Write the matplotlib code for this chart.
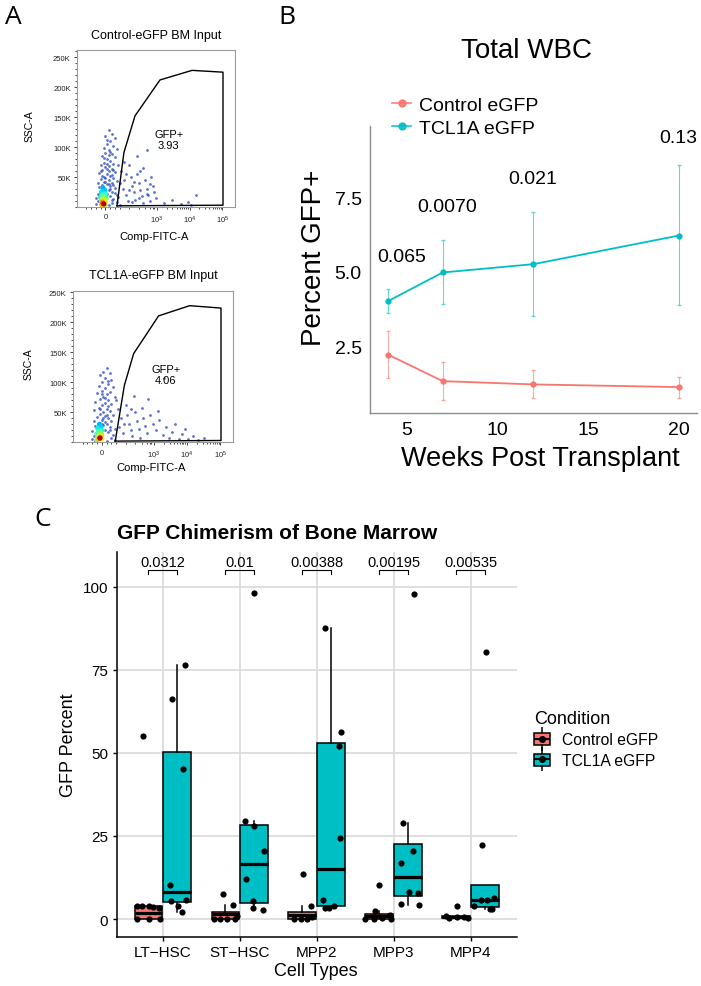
import numpy as np
import matplotlib.pyplot as plt
from matplotlib.lines import Line2D
from matplotlib.patches import Patch
from matplotlib.legend_handler import HandlerTuple
from matplotlib.ticker import MultipleLocator

plt.rcParams['font.family'] = ['Liberation Sans', 'DejaVu Sans']
plt.rcParams['mathtext.default'] = 'regular'

W, H = 701, 987

# ---------- A: flow events (x = position on FITC display axis 0-1, y = SSC-A in K)
ctrl_events = [(0.20, 128), (0.22, 122), (0.18, 118), (0.24, 115), (0.21, 110), (0.19, 105), (0.23, 102),
               (0.17, 98), (0.25, 96), (0.20, 95), (0.18, 90), (0.22, 88), (0.16, 85), (0.24, 83),
               (0.19, 80), (0.21, 77), (0.17, 74), (0.23, 72), (0.15, 70), (0.26, 70), (0.20, 68),
               (0.18, 66), (0.22, 64), (0.16, 62), (0.20, 60), (0.24, 58), (0.14, 56), (0.19, 55),
               (0.21, 52), (0.17, 50), (0.23, 48), (0.15, 46), (0.20, 45), (0.25, 44), (0.18, 42),
               (0.22, 40), (0.13, 40), (0.19, 38), (0.16, 36), (0.21, 35), (0.14, 33), (0.24, 32),
               (0.18, 30), (0.20, 28), (0.15, 26), (0.22, 25), (0.13, 22), (0.25, 20), (0.17, 18),
               (0.26, 16), (0.12, 15), (0.23, 14), (0.13, 10), (0.25, 8), (0.12, 5), (0.27, 4),
               (0.20, 3), (0.15, 3), (0.22, 6), (0.19, 112), (0.21, 92), (0.17, 82), (0.23, 62),
               (0.19, 72), (0.16, 52), (0.22, 54), (0.18, 48), (0.20, 38), (0.23, 36), (0.17, 42),
               (0.21, 30), (0.19, 22), (0.24, 24), (0.14, 18), (0.22, 12), (0.21, 18), (0.19, 64),
               (0.15, 60), (0.20, 86),
               (0.28, 60), (0.30, 45), (0.29, 30), (0.31, 20), (0.33, 70), (0.34, 50), (0.35, 35),
               (0.36, 25), (0.37, 12), (0.38, 55), (0.39, 40), (0.40, 28), (0.41, 18), (0.42, 65),
               (0.43, 45), (0.44, 30), (0.45, 20), (0.46, 10), (0.47, 50), (0.48, 35), (0.49, 25),
               (0.38, 85), (0.44, 95), (0.50, 15), (0.32, 10), (0.35, 8), (0.42, 6), (0.30, 75),
               (0.27, 40), (0.36, 42), (0.40, 60), (0.46, 38), (0.33, 28), (0.39, 15), (0.44, 22),
               (0.31, 55), (0.66, 5), (0.70, 8), (0.72, 3), (0.60, 12), (0.55, 6), (0.75, 20)]
ctrl_core = [(0.165, 32, 0.30), (0.175, 28, 0.32), (0.155, 25, 0.35), (0.18, 22, 0.38), (0.16, 20, 0.42),
             (0.17, 18, 0.48), (0.15, 16, 0.40), (0.185, 15, 0.45), (0.165, 14, 0.55), (0.175, 12, 0.60),
             (0.155, 11, 0.50), (0.17, 10, 0.68), (0.16, 8, 0.75), (0.18, 8, 0.60), (0.165, 6, 0.85),
             (0.17, 5, 0.95), (0.155, 4, 0.70), (0.18, 4, 0.55)]
tcl_events = [(0.21, 124), (0.19, 118), (0.23, 115), (0.17, 112), (0.20, 108), (0.24, 104), (0.18, 100),
              (0.22, 97), (0.16, 94), (0.25, 92), (0.20, 90), (0.18, 86), (0.23, 84), (0.15, 82),
              (0.21, 80), (0.19, 76), (0.26, 75), (0.17, 72), (0.22, 70), (0.14, 68), (0.20, 66),
              (0.24, 64), (0.18, 62), (0.16, 58), (0.21, 56), (0.13, 54), (0.23, 52), (0.19, 50),
              (0.17, 47), (0.25, 46), (0.20, 44), (0.15, 42), (0.22, 40), (0.18, 38), (0.13, 36),
              (0.24, 35), (0.16, 33), (0.21, 31), (0.19, 29), (0.14, 27), (0.23, 26), (0.17, 24),
              (0.26, 22), (0.20, 20), (0.12, 19), (0.22, 17), (0.15, 15), (0.25, 13), (0.13, 10),
              (0.24, 8), (0.12, 5), (0.26, 4), (0.21, 3), (0.14, 3), (0.20, 74), (0.22, 60),
              (0.17, 55), (0.19, 40), (0.21, 46), (0.18, 30), (0.20, 34), (0.23, 20), (0.16, 20),
              (0.22, 102), (0.18, 80),
              (0.28, 55), (0.30, 40), (0.29, 25), (0.31, 15), (0.33, 62), (0.34, 45), (0.35, 30),
              (0.36, 20), (0.37, 10), (0.39, 50), (0.40, 35), (0.41, 22), (0.43, 58), (0.44, 40),
              (0.45, 28), (0.46, 15), (0.48, 45), (0.50, 30), (0.52, 20), (0.54, 38), (0.56, 12),
              (0.58, 25), (0.60, 8), (0.62, 18), (0.64, 30), (0.66, 6), (0.68, 14), (0.70, 22),
              (0.72, 5), (0.75, 10), (0.78, 4), (0.82, 8), (0.57, 108), (0.47, 72), (0.38, 78),
              (0.32, 30), (0.42, 8), (0.53, 52), (0.27, 70), (0.36, 55)]
tcl_core = [(0.165, 30, 0.30), (0.175, 26, 0.33), (0.155, 23, 0.36), (0.18, 20, 0.40), (0.16, 18, 0.45),
            (0.17, 16, 0.50), (0.15, 14, 0.42), (0.18, 13, 0.50), (0.165, 12, 0.60), (0.175, 10, 0.68),
            (0.155, 9, 0.55), (0.17, 8, 0.80), (0.16, 6, 0.72), (0.18, 6, 0.60), (0.168, 7, 0.95),
            (0.15, 4, 0.50)]
ctrl_gate = [(0.253, 2), (0.297, 91), (0.367, 152), (0.525, 212), (0.728, 228), (0.924, 225), (0.924, 3)]
tcl_gate = [(0.264, 2), (0.321, 95), (0.379, 148), (0.535, 211), (0.729, 228), (0.925, 224), (0.925, 3)]
gate_pct = ['3.93', '4.06']
flow_titles = ['Control-eGFP BM Input', 'TCL1A-eGFP BM Input']
ssc_ticks = [50, 100, 150, 200, 250]
ssc_labels = ['50K', '100K', '150K', '200K', '250K']
fitc_ticks = [0.18, 0.505, 0.713, 0.92]
fitc_labels = ['0', '10$^3$', '10$^4$', '10$^5$']
fitc_minor = [0.06, 0.09, 0.12, 0.15, 0.21, 0.24, 0.27, 0.33, 0.39, 0.43, 0.46, 0.48, 0.49,
              0.567, 0.604, 0.63, 0.65, 0.667, 0.68, 0.69, 0.70, 0.775, 0.812, 0.838, 0.858,
              0.874, 0.888, 0.90, 0.91]

# ---------- B: total WBC
weeks = [4, 7, 12, 20]
ctrl_mean = [2.22, 1.33, 1.22, 1.13]
ctrl_lo = [1.45, 0.70, 0.76, 0.78]
ctrl_hi = [3.00, 1.97, 1.69, 1.48]
tcl_mean = [4.02, 4.98, 5.26, 6.22]
tcl_lo = [3.63, 3.91, 3.52, 3.89]
tcl_hi = [4.41, 6.06, 7.00, 8.58]
wbc_p = ['0.065', '0.0070', '0.021', '0.13']
wbc_p_x = [4.73, 7.26, 11.96, 19.96]
wbc_p_y = [5.53, 7.20, 8.14, 9.50]

# ---------- C: bone marrow chimerism
cell_types = ['LT\u2212HSC', 'ST\u2212HSC', 'MPP2', 'MPP3', 'MPP4']
# whislo, q1, med, q3, whishi
ctrl_stats = [[0, 0, 1.8, 3.8, 3.8], [0, 0, 1.5, 2.0, 4.2], [0, 0.1, 1.2, 2.0, 4.0],
              [0, 0, 1.0, 1.5, 2.4], [0, 0.3, 0.6, 1.0, 1.0]]
tcl_stats = [[2.2, 5.0, 8.2, 50.3, 76.5], [2.8, 4.8, 16.5, 28.4, 29.4], [3.4, 3.8, 15.0, 52.9, 87.4],
             [4.2, 6.8, 12.7, 22.6, 28.8], [3.0, 3.5, 5.8, 10.3, 10.3]]
ctrl_jit = [[-0.260, -0.339, -0.273, -0.174, -0.122, -0.044, -0.339, -0.174, -0.035],
            [-0.215, -0.094, -0.341, -0.254, -0.167, -0.059, -0.037],
            [-0.180, -0.073, -0.300, -0.203, -0.125, -0.060],
            [-0.184, -0.236, -0.366, -0.258, -0.149, -0.040, -0.049],
            [-0.177, -0.322, -0.279, -0.172, -0.086, -0.034]]
ctrl_vals = [[55.0, 3.8, 3.8, 3.8, 3.5, 3.3, 0, 0, 0],
             [7.5, 4.2, 0, 0, 0, 0, 1.0],
             [13.7, 4.0, 0, 0, 0, 0.6],
             [10.2, 2.4, 0, 0, 0.3, 0, 1.2],
             [3.8, 1.0, 0.3, 0.6, 0.5, 0.3]]
tcl_jit = [[0.121, 0.290, 0.260, 0.095, 0.108, 0.303, 0.203, 0.255],
           [0.185, 0.063, 0.180, 0.310, 0.076, 0.167, 0.167, 0.297],
           [0.105, 0.310, 0.289, 0.298, 0.081, 0.111, 0.163, 0.220],
           [0.268, 0.125, 0.250, 0.094, 0.198, 0.315, 0.099, 0.328],
           [0.197, 0.154, 0.046, 0.131, 0.219, 0.305, 0.253, 0.284]]
tcl_vals = [[66.2, 76.5, 45.1, 10.2, 5.4, 5.8, 3.8, 2.2],
            [98.1, 29.4, 28.1, 20.6, 12.0, 5.5, 3.2, 2.8],
            [87.4, 56.2, 52.0, 24.3, 5.8, 3.4, 3.4, 4.0],
            [97.8, 28.8, 20.6, 17.0, 8.0, 7.7, 4.5, 4.2],
            [80.4, 22.3, 4.0, 5.8, 5.8, 6.3, 3.0, 3.0]]
bm_p = ['0.0312', '0.01', '0.00388', '0.00195', '0.00535']

RED = '#F8766D'
TEAL = '#00BFC4'

fig = plt.figure(figsize=(W / 100, H / 100), dpi=100)


def flow_panel(ax, events, core, gate, title, pct, ymax):
    ev = np.array(events).T
    ax.scatter(ev[0], ev[1], s=4, color='#3550c4', alpha=0.8, lw=0)
    co = np.array(core)
    co = co[np.argsort(co[:, 2])]
    ax.scatter(co[:, 0], co[:, 1], c=co[:, 2], cmap='jet', vmin=0, vmax=1, s=14, lw=0)
    g = np.array(gate + gate[:1]).T
    ax.plot(g[0], g[1], color='black', lw=1.0)
    ax.text(0.58, 113, 'GFP+\n' + pct, ha='center', va='center', fontsize=8, linespacing=1.15)
    ax.set_xlim(0, 1)
    ax.set_ylim(0, ymax)
    ax.set_yticks(ssc_ticks, ssc_labels)
    ax.yaxis.set_minor_locator(MultipleLocator(10))
    ax.set_xticks(fitc_ticks, fitc_labels)
    ax.set_xticks(fitc_minor, minor=True)
    ax.tick_params(labelsize=5.5, length=2.5, width=0.6, pad=2, colors='#222222')
    ax.tick_params(which='minor', length=1.5, width=0.5)
    for sp in ax.spines.values():
        sp.set_color('#9a9a9a')
        sp.set_linewidth(0.8)
    ax.set_title(title, fontsize=9, pad=9)
    ax.set_ylabel('SSC-A', fontsize=7.5)
    ax.set_xlabel('Comp-FITC-A', fontsize=8)


axA1 = fig.add_axes([77 / W, 1 - 208 / H, 158 / W, 157 / H])
flow_panel(axA1, ctrl_events, ctrl_core, ctrl_gate, flow_titles[0], gate_pct[0], 262)
axA1.yaxis.set_label_coords(-0.27, 0.52)
axA1.xaxis.set_label_coords(0.49, -0.15)

axA2 = fig.add_axes([73 / W, 1 - 443.3 / H, 160 / W, 151.6 / H])
flow_panel(axA2, tcl_events, tcl_core, tcl_gate, flow_titles[1], gate_pct[1], 253)
axA2.yaxis.set_label_coords(-0.245, 0.52)
axA2.xaxis.set_label_coords(0.49, -0.13)

# ---------- B
axB = fig.add_axes([370 / W, 1 - 414 / H, 327 / W, 287 / H])
for m, lo, hi, c in [(ctrl_mean, ctrl_lo, ctrl_hi, RED), (tcl_mean, tcl_lo, tcl_hi, TEAL)]:
    m = np.array(m)
    axB.errorbar(weeks, m, yerr=[m - np.array(lo), np.array(hi) - m], fmt='none',
                 ecolor=c, elinewidth=0.8, capsize=1.2, alpha=0.6)
    axB.plot(weeks, m, color=c, lw=1.3, marker='o', ms=3.5)
for t, x, y in zip(wbc_p, wbc_p_x, wbc_p_y):
    axB.text(x, y, t, ha='center', va='center', fontsize=14)
axB.set_xlim(3, 21)
axB.set_ylim(0.26, 9.9)
axB.set_xticks([5, 10, 15, 20])
axB.set_yticks([2.5, 5.0, 7.5], ['2.5', '5.0', '7.5'])
axB.tick_params(length=0, labelsize=14, pad=6)
for s in ['top', 'right']:
    axB.spines[s].set_visible(False)
for s in ['left', 'bottom']:
    axB.spines[s].set_color('#8c8c8c')
    axB.spines[s].set_linewidth(1.0)
axB.set_ylabel('Percent GFP+', fontsize=20)
axB.set_xlabel('Weeks Post Transplant', fontsize=19.5)
axB.yaxis.set_label_coords(-0.133, 0.545)
axB.xaxis.set_label_coords(0.52, -0.11)
fig.text(526.7 / W, 1 - 50.7 / H, 'Total WBC', ha='center', va='center', fontsize=20)
hB = [Line2D([0], [0], color=c, lw=1.2, marker='o', ms=5, alpha=0.9) for c in (RED, TEAL)]
fig.legend(hB, ['Control eGFP', 'TCL1A eGFP'], loc='upper left', bbox_to_anchor=(392 / W, 1 - 97 / H),
           frameon=False, fontsize=14, handlelength=1.0, handletextpad=0.4, labelspacing=0.3,
           borderpad=0, borderaxespad=0)

# ---------- C
axC = fig.add_axes([116.7 / W, 1 - 937.7 / H, 400 / W, 384.4 / H])
axC.set_axisbelow(True)
axC.grid(True, color='#d9d9d9', lw=1.2)
pos = np.arange(1, len(cell_types) + 1)
for stats, off, col in [(ctrl_stats, -0.1875, RED), (tcl_stats, 0.1875, TEAL)]:
    bx = [dict(whislo=s[0], q1=s[1], med=s[2], q3=s[3], whishi=s[4]) for s in stats]
    axC.bxp(bx, positions=pos + off, widths=0.36, patch_artist=True, showfliers=False,
            showcaps=False, manage_ticks=False,
            boxprops=dict(facecolor=col, edgecolor='black', linewidth=1.1),
            medianprops=dict(color='black', linewidth=2.3),
            whiskerprops=dict(color='black', linewidth=1.1))
for jit, vals in [(ctrl_jit, ctrl_vals), (tcl_jit, tcl_vals)]:
    for i in range(len(cell_types)):
        axC.scatter(pos[i] + np.array(jit[i]), vals[i], s=20, color='black', lw=0, zorder=5)
for i, t in enumerate(bm_p):
    x0, x1 = pos[i] - 0.1875, pos[i] + 0.1875
    axC.plot([x0, x0, x1, x1], [103.8, 105.1, 105.1, 103.8], color='black', lw=0.8)
    axC.text(pos[i], 106.2, t, ha='center', va='baseline', fontsize=10.5)
axC.set_xlim(0.4, 5.6)
axC.set_ylim(-5.3, 110.3)
axC.set_xticks(pos, cell_types)
axC.set_yticks([0, 25, 50, 75, 100])
axC.tick_params(labelsize=11, length=3, width=1, pad=3, colors='black')
for s in ['top', 'right']:
    axC.spines[s].set_visible(False)
for s in ['left', 'bottom']:
    axC.spines[s].set_linewidth(1.1)
axC.set_ylabel('GFP Percent', fontsize=13)
axC.set_xlabel('Cell Types', fontsize=13)
axC.yaxis.set_label_coords(-0.099, 0.501)
axC.xaxis.set_label_coords(0.499, -0.066)
axC.text(0.0, 1.052, 'GFP Chimerism of Bone Marrow', transform=axC.transAxes, ha='left',
         va='center', fontsize=15, fontweight='bold')
hC = []
for c in (RED, TEAL):
    hC.append((Line2D([0], [0], color='black', marker='|', ms=17, mew=1.1, ls='none'),
               Patch(facecolor=c, edgecolor='black', lw=1.1),
               Line2D([0], [0], color='black', marker='_', ms=12, mew=1.5, ls='none'),
               Line2D([0], [0], color='black', marker='o', ms=4, ls='none')))
legC = fig.legend(hC, ['Control eGFP', 'TCL1A eGFP'], title='Condition', loc='upper left',
                  bbox_to_anchor=(534 / W, 1 - 711 / H), frameon=False, fontsize=11.3,
                  title_fontsize=13, handlelength=1.05, handleheight=0.8, handletextpad=0.75,
                  labelspacing=0.35, borderpad=0, borderaxespad=0, alignment='left',
                  handler_map={tuple: HandlerTuple(ndivide=1, pad=0)})

# panel letters
for lab, x, y in [('A', 13.7, 17.3), ('B', 287, 18), ('C', 43, 520)]:
    fig.text(x / W, 1 - y / H, lab, ha='center', va='center', fontsize=19, family='Open Sans')

fig.savefig('out.png', dpi=100)
